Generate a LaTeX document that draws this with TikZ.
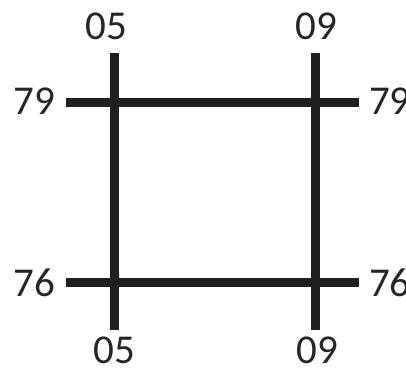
\documentclass[tikz,border=0pt]{standalone}
\usepackage{fontspec}
\setmainfont{Carlito}
\begin{document}
\begin{tikzpicture}[x=1pt,y=-1pt,
  bar/.style={line width=9pt,draw=black!88},
  lbl/.style={inner sep=0pt,font=\fontsize{41}{41}\selectfont,text=black!85}]
\useasboundingbox (0,0) rectangle (406,372);
\coordinate (vat) at (114,53);
\coordinate (vab) at (114,330);
\coordinate (vbt) at (315,53);
\coordinate (vbb) at (315,330);
\coordinate (hal) at (66,102);
\coordinate (har) at (359,102);
\coordinate (hbl) at (66,282);
\coordinate (hbr) at (359,282);
\draw[bar] (vat) -- (vab);
\draw[bar] (vbt) -- (vbb);
\draw[bar] (hal) -- (har);
\draw[bar] (hbl) -- (hbr);
\node[lbl] (t1) at (106,26) {05};
\node[lbl] (t2) at (316,26) {09};
\node[lbl] (b1) at (114,350) {05};
\node[lbl] (b2) at (317,350) {09};
\node[lbl,anchor=east] (l1) at (55,101) {79};
\node[lbl,anchor=east] (l2) at (55,283) {76};
\node[lbl,anchor=west] (r1) at (369,101) {79};
\node[lbl,anchor=west] (r2) at (369,283) {76};
\end{tikzpicture}
\end{document}
